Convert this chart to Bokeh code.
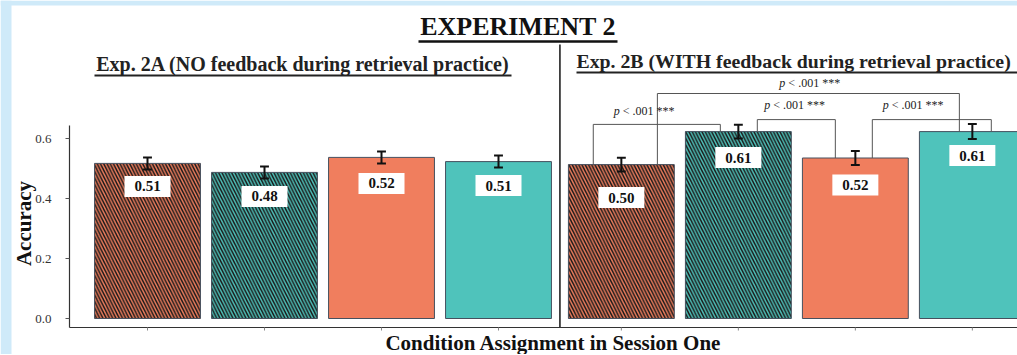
import math
from bokeh.plotting import figure
from bokeh.models import ColumnDataSource, Range1d
from bokeh.core.properties import value
from bokeh.embed import file_html
from bokeh.resources import INLINE

# ---------------- data ----------------
experiments = ["2A", "2A", "2A", "2A", "2B", "2B", "2B", "2B"]
conditions = ["Condition 1", "Condition 2", "Condition 3", "Condition 4",
              "Condition 1", "Condition 2", "Condition 3", "Condition 4"]
means = [0.517, 0.487, 0.537, 0.523, 0.513, 0.623, 0.535, 0.623]
errors = [0.020, 0.020, 0.020, 0.020, 0.023, 0.023, 0.023, 0.025]
value_labels = ["0.51", "0.48", "0.52", "0.51", "0.50", "0.61", "0.52", "0.61"]
hatched = [True, True, False, False, True, True, False, False]
palette_keys = ["salmon", "teal", "salmon", "teal", "salmon", "teal", "salmon", "teal"]

comp_left = [4, 5, 6, 4]
comp_right = [5, 6, 7, 7]
comp_p = [".001", ".001", ".001", ".001"]
comp_stars = ["***", "***", "***", "***"]

y_ticks = [0.0, 0.2, 0.4, 0.6]
y_tick_labels = ["0.0", "0.2", "0.4", "0.6"]

title_text = "EXPERIMENT 2"
sub_a = "Exp. 2A (NO feedback during retrieval practice)"
sub_b = "Exp. 2B (WITH feedback during retrieval practice)"
x_title = "Condition Assignment in Session One"
y_title = "Accuracy"

# ---------------- layout / style ----------------
SERIF = "Liberation Serif"
COLORS = {"salmon": "#F07E5E", "teal": "#4FC3BB"}
FRAME_BLUE = "#cfeaf9"
PANEL_GAP = 0.05
BAR_W = 0.905
PX_X = 117.0   # px per x unit
PX_Y = 300.0   # px per y unit
FIG_W = 1017
FIG_H = 354
# the frame fills the whole figure; y=0 at page px 318, x=0 at page px 147
X0 = (0 - 147) / PX_X
X1 = (FIG_W - 147) / PX_X
Y0 = (318 - FIG_H) / PX_Y
Y1 = (318 - 0) / PX_Y
Y_AXIS = (318 - 327) / PX_Y
Y_AXIS_TOP = 0.643

def px_x(px):   # page px -> data x
    return (px - 147) / PX_X

def px_y(py):   # page px -> data y
    return (318 - py) / PX_Y

x_pos = [i + (PANEL_GAP if experiments[i] == "2B" else 0.0) for i in range(len(means))]
fill = [COLORS[k] for k in palette_keys]
hatch = ["\\" if h else " " for h in hatched]
label_off_px = [23, 24, 26, 24, 33, 26, 27, 24]
label_y = [m - o / PX_Y for m, o in zip(means, label_off_px)]

leg_off_left = [-0.24, 0.162, 0.145, 0.308]
leg_off_right = [-0.154, -0.171, 0.162, -0.111]
bracket_top = [0.647, 0.663, 0.663, 0.750]
comp_text_y = [px_y(110), px_y(104), px_y(104), px_y(82)]
comp_text_dx = [-11, 0, -17, 3]

p = figure(width=FIG_W, height=FIG_H,
           x_range=Range1d(X0, X1), y_range=Range1d(Y0, Y1),
           output_backend="svg", toolbar_location=None,
           x_axis_location=None, y_axis_location=None,
           min_border_left=0, min_border_right=0,
           min_border_top=0, min_border_bottom=0)
p.outline_line_color = None
p.xgrid.visible = False
p.ygrid.visible = False
p.background_fill_color = "white"
p.border_fill_color = "white"

# light-blue page frame (top and left strips)
p.quad(left=[X0, X0], right=[X1, px_x(11)], top=[Y1, Y1], bottom=[px_y(5), Y0],
       fill_color=FRAME_BLUE, line_color=None)

src = ColumnDataSource(dict(x=x_pos, top=means, fill=fill, hatch=hatch,
                            cond=conditions, exp=experiments))
p.vbar(x="x", top="top", bottom=0, width=BAR_W, source=src,
       fill_color="fill", line_color="#46505e", line_width=1,
       hatch_pattern="hatch", hatch_color="#1a1a1a", hatch_scale=6.5,
       hatch_weight=1.5)

# error bars
lo = [m - e for m, e in zip(means, errors)]
hi = [m + e for m, e in zip(means, errors)]
cap = 0.038
p.segment(x0=x_pos, y0=lo, x1=x_pos, y1=hi, line_color="#111111", line_width=2)
p.segment(x0=[x - cap for x in x_pos], y0=hi, x1=[x + cap for x in x_pos], y1=hi,
          line_color="#111111", line_width=2)
p.segment(x0=[x - cap for x in x_pos], y0=lo, x1=[x + cap for x in x_pos], y1=lo,
          line_color="#111111", line_width=2)

# value labels
p.rect(x=x_pos, y=label_y, width=46, height=21, width_units="screen",
       height_units="screen", fill_color="white", line_color=None)
p.text(x=x_pos, y=label_y, text=value_labels, text_font=value(SERIF),
       text_font_style="bold", text_font_size="15px", text_align="center",
       text_baseline="middle", text_color="#111111")

# significance brackets
bx, by, tx = [], [], []
for k in range(len(comp_left)):
    l, r = comp_left[k], comp_right[k]
    xl = x_pos[l] + leg_off_left[k]
    xr = x_pos[r] + leg_off_right[k]
    t = bracket_top[k]
    bx.append([xl, xl, xr, xr])
    by.append([means[l], t, t, means[r]])
    tx.append((xl + xr) / 2 + comp_text_dx[k] / PX_X)
p.multi_line(xs=bx, ys=by, line_color="#555555", line_width=1)
p.text(x=tx, y=comp_text_y, text=["p"] * len(tx), x_offset=-32,
       text_font=value(SERIF), text_font_style="italic", text_font_size="12px",
       text_align="left", text_baseline="middle", text_color="#222222")
p.text(x=tx, y=comp_text_y, text=["< " + a + " " + s for a, s in zip(comp_p, comp_stars)],
       x_offset=-23, text_font=value(SERIF), text_font_size="12px",
       text_align="left", text_baseline="middle", text_color="#222222")

# divider between panels
x_div = (x_pos[3] + x_pos[4]) / 2
p.segment(x0=[x_div], y0=[Y_AXIS], x1=[x_div], y1=[px_y(44)], line_color="#222222",
          line_width=1.6)

# x axis
p.segment(x0=[px_x(69)], y0=[Y_AXIS], x1=[X1], y1=[Y_AXIS], line_color="#333333",
          line_width=1.2)
p.segment(x0=x_pos, y0=[Y_AXIS] * len(x_pos), x1=x_pos,
          y1=[Y_AXIS - 3 / PX_Y] * len(x_pos), line_color="#888888", line_width=1)
p.text(x=[px_x(553)], y=[px_y(342)], text=[x_title], text_font=value(SERIF),
       text_font_style="bold", text_font_size="21px", text_align="center",
       text_baseline="middle", text_color="#111111")

# y axis
x_yax = px_x(69)
p.segment(x0=[x_yax], y0=[Y_AXIS], x1=[x_yax], y1=[Y_AXIS_TOP], line_color="#333333",
          line_width=1.2)
p.segment(x0=[px_x(65)] * len(y_ticks), y0=y_ticks, x1=[x_yax] * len(y_ticks), y1=y_ticks,
          line_color="#555555", line_width=1)
p.text(x=[px_x(51)] * len(y_ticks), y=y_ticks, text=y_tick_labels,
       text_font=value(SERIF), text_font_size="13px", text_align="right",
       text_baseline="middle", text_color="#333333")
p.text(x=[px_x(23)], y=[px_y(223)], text=[y_title], angle=math.pi / 2,
       text_font=value(SERIF), text_font_style="bold", text_font_size="21px",
       text_align="center", text_baseline="middle", text_color="#111111")

# titles (with underlines)
p.text(x=[px_x(517.5)], y=[px_y(26)], text=[title_text], text_font=value(SERIF),
       text_font_style="bold", text_font_size="26px", text_align="center",
       text_baseline="middle", text_color="#111111")
p.segment(x0=[px_x(418)], y0=[px_y(41)], x1=[px_x(617)], y1=[px_y(41)],
          line_color="#111111", line_width=2.5)
p.text(x=[px_x(302.5)], y=[px_y(63)], text=[sub_a], text_font=value(SERIF),
       text_font_style="bold", text_font_size="20px", text_align="center",
       text_baseline="middle", text_color="#222222")
p.segment(x0=[px_x(94)], y0=[px_y(75)], x1=[px_x(511)], y1=[px_y(75)],
          line_color="#222222", line_width=1.8)
p.text(x=[px_x(576)], y=[px_y(60)], text=[sub_b], text_font=value(SERIF),
       text_font_style="bold", text_font_size="19.8px", text_align="left",
       text_baseline="middle", text_color="#222222")
p.segment(x0=[px_x(576)], y0=[px_y(72)], x1=[px_x(1017)], y1=[px_y(72)],
          line_color="#222222", line_width=1.8)

open("out.html", "w").write(file_html(p, INLINE))
